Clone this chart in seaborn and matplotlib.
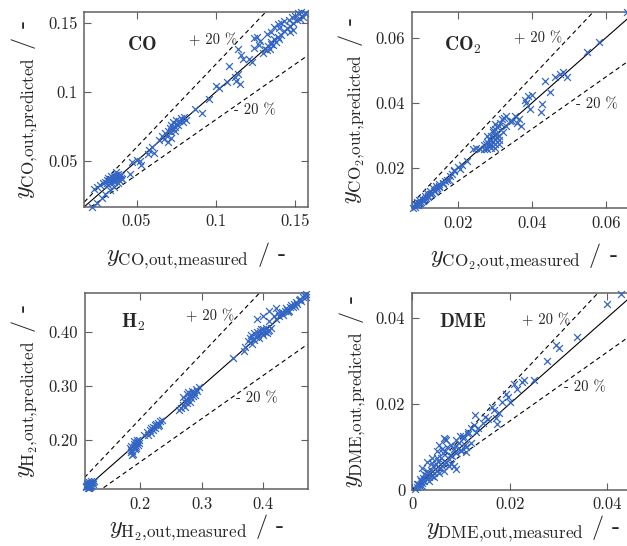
import matplotlib
matplotlib.use("Agg")
import matplotlib.pyplot as plt
import seaborn as sns
import numpy as np
import pandas as pd

# ---------------- data ----------------
co_measured = [0.022, 0.025, 0.028, 0.030, 0.033, 0.036, 0.038, 0.023, 0.025, 0.027,
               0.029, 0.030, 0.031, 0.032, 0.033, 0.034, 0.035, 0.035, 0.036, 0.036,
               0.037, 0.037, 0.038, 0.038, 0.039, 0.039, 0.040, 0.034, 0.032, 0.031,
               0.036, 0.037, 0.040, 0.041, 0.046, 0.047, 0.050, 0.052, 0.053, 0.057,
               0.058, 0.060, 0.061, 0.064, 0.066, 0.067, 0.068, 0.069, 0.070, 0.071,
               0.072, 0.072, 0.073, 0.073, 0.074, 0.074, 0.075, 0.075, 0.076, 0.077,
               0.078, 0.079, 0.080, 0.081, 0.070, 0.072, 0.087, 0.091, 0.096, 0.100,
               0.102, 0.107, 0.108, 0.112, 0.113, 0.114, 0.115, 0.114, 0.116, 0.117,
               0.121, 0.123, 0.124, 0.124, 0.126, 0.128, 0.127, 0.130, 0.131, 0.132,
               0.133, 0.134, 0.135, 0.135, 0.136, 0.137, 0.137, 0.138, 0.139, 0.140,
               0.140, 0.141, 0.143, 0.146, 0.148, 0.150, 0.152, 0.154, 0.156, 0.155,
               0.153, 0.151, 0.149, 0.147, 0.145, 0.143, 0.141, 0.139, 0.147, 0.149,
               0.132, 0.135]
co_predicted = [0.017, 0.020, 0.023, 0.026, 0.029, 0.031, 0.034, 0.030, 0.031, 0.033,
                0.034, 0.035, 0.036, 0.033, 0.037, 0.035, 0.038, 0.036, 0.039, 0.037,
                0.040, 0.038, 0.041, 0.037, 0.039, 0.036, 0.038, 0.039, 0.038, 0.034,
                0.035, 0.042, 0.040, 0.037, 0.041, 0.049, 0.051, 0.050, 0.047, 0.055,
                0.058, 0.060, 0.056, 0.065, 0.068, 0.066, 0.070, 0.068, 0.072, 0.074,
                0.071, 0.076, 0.074, 0.078, 0.075, 0.072, 0.077, 0.080, 0.076, 0.079,
                0.081, 0.078, 0.082, 0.080, 0.064, 0.067, 0.088, 0.085, 0.095, 0.104,
                0.103, 0.107, 0.119, 0.111, 0.108, 0.113, 0.106, 0.131, 0.127, 0.124,
                0.124, 0.122, 0.132, 0.139, 0.140, 0.137, 0.134, 0.128, 0.131, 0.142,
                0.133, 0.131, 0.135, 0.143, 0.134, 0.138, 0.147, 0.136, 0.149, 0.138,
                0.146, 0.150, 0.151, 0.152, 0.154, 0.155, 0.157, 0.158, 0.157, 0.154,
                0.153, 0.152, 0.150, 0.148, 0.146, 0.144, 0.141, 0.140, 0.143, 0.145,
                0.130, 0.136]

co2_measured = [0.0080, 0.0085, 0.0090, 0.0095, 0.0100, 0.0105, 0.0110, 0.0115, 0.0120, 0.0125,
                0.0130, 0.0135, 0.0140, 0.0145, 0.0150, 0.0160, 0.0165, 0.0170, 0.0090, 0.0095,
                0.0102, 0.0110, 0.0118, 0.0125, 0.0132, 0.0140, 0.0148, 0.0085, 0.0092, 0.0098,
                0.0108, 0.0120, 0.0128, 0.0138, 0.0150, 0.0160, 0.0175, 0.0180, 0.0190, 0.0185,
                0.0200, 0.0190, 0.0205, 0.0225, 0.0210, 0.0240, 0.0250, 0.0260, 0.0270, 0.0275,
                0.0280, 0.0270, 0.0275, 0.0280, 0.0285, 0.0290, 0.0290, 0.0295, 0.0300, 0.0300,
                0.0305, 0.0310, 0.0310, 0.0285, 0.0290, 0.0295, 0.0300, 0.0305, 0.0280, 0.0285,
                0.0290, 0.0300, 0.0310, 0.0295, 0.0305, 0.0300, 0.0310, 0.0315, 0.0320, 0.0330,
                0.0340, 0.0330, 0.0325, 0.0355, 0.0360, 0.0365, 0.0370, 0.0380, 0.0390, 0.0400,
                0.0385, 0.0394, 0.0425, 0.0427, 0.0436, 0.0450, 0.0463, 0.0475, 0.0484, 0.0494,
                0.0548, 0.0582, 0.0657, 0.0345, 0.0322]
co2_predicted = [0.0078, 0.0082, 0.0088, 0.0092, 0.0097, 0.0100, 0.0105, 0.0110, 0.0115, 0.0120,
                 0.0125, 0.0130, 0.0135, 0.0140, 0.0145, 0.0155, 0.0160, 0.0165, 0.0095, 0.0101,
                 0.0107, 0.0115, 0.0124, 0.0131, 0.0138, 0.0146, 0.0153, 0.0090, 0.0087, 0.0094,
                 0.0102, 0.0113, 0.0120, 0.0130, 0.0142, 0.0150, 0.0165, 0.0175, 0.0195, 0.0182,
                 0.0205, 0.0190, 0.0198, 0.0222, 0.0210, 0.0260, 0.0262, 0.0260, 0.0258, 0.0263,
                 0.0260, 0.0270, 0.0275, 0.0280, 0.0275, 0.0270, 0.0285, 0.0280, 0.0290, 0.0275,
                 0.0295, 0.0300, 0.0285, 0.0290, 0.0300, 0.0310, 0.0320, 0.0305, 0.0300, 0.0268,
                 0.0262, 0.0262, 0.0275, 0.0318, 0.0325, 0.0335, 0.0330, 0.0340, 0.0350, 0.0360,
                 0.0345, 0.0330, 0.0355, 0.0360, 0.0340, 0.0352, 0.0330, 0.0410, 0.0420, 0.0425,
                 0.0400, 0.0380, 0.0373, 0.0396, 0.0468, 0.0434, 0.0480, 0.0490, 0.0495, 0.0480,
                 0.0557, 0.0587, 0.0679, 0.0345, 0.0312]

h2_measured = [0.112, 0.114, 0.116, 0.118, 0.120, 0.113, 0.115, 0.117, 0.119, 0.121,
               0.123, 0.122, 0.120, 0.118, 0.116, 0.111, 0.124, 0.117, 0.114, 0.119,
               0.183, 0.185, 0.187, 0.189, 0.190, 0.192, 0.193, 0.195, 0.188, 0.186,
               0.191, 0.194, 0.196, 0.184, 0.190, 0.197, 0.185, 0.192, 0.198,
               0.205, 0.210, 0.215, 0.218, 0.220, 0.223, 0.226, 0.229, 0.232, 0.235,
               0.224, 0.228, 0.221, 0.231, 0.217, 0.212,
               0.262, 0.266, 0.270, 0.272, 0.275, 0.278, 0.280, 0.282, 0.285, 0.288,
               0.290, 0.292, 0.295, 0.275, 0.278, 0.283, 0.286, 0.270, 0.273, 0.280,
               0.289, 0.276, 0.284,
               0.350, 0.370, 0.368,
               0.375, 0.378, 0.380, 0.383, 0.385, 0.388, 0.390, 0.392, 0.395, 0.398,
               0.400, 0.403, 0.405, 0.408, 0.410, 0.413, 0.385, 0.393, 0.400, 0.382,
               0.396, 0.406,
               0.420, 0.425, 0.428, 0.432, 0.435, 0.438, 0.440, 0.443, 0.445, 0.448,
               0.450, 0.453, 0.455, 0.458, 0.460, 0.462, 0.465, 0.467, 0.469, 0.470,
               0.430, 0.437, 0.452, 0.442, 0.418, 0.424, 0.410, 0.390, 0.400, 0.410, 0.420]
h2_predicted = [0.113, 0.115, 0.117, 0.119, 0.121, 0.118, 0.120, 0.122, 0.124, 0.120,
                0.122, 0.118, 0.116, 0.114, 0.112, 0.116, 0.125, 0.113, 0.111, 0.117,
                0.185, 0.190, 0.180, 0.188, 0.193, 0.195, 0.190, 0.197, 0.175, 0.172,
                0.184, 0.200, 0.192, 0.178, 0.198, 0.200, 0.182, 0.186, 0.195,
                0.210, 0.215, 0.218, 0.222, 0.225, 0.228, 0.230, 0.232, 0.235, 0.238,
                0.222, 0.226, 0.219, 0.229, 0.213, 0.209,
                0.255, 0.260, 0.265, 0.270, 0.275, 0.278, 0.282, 0.285, 0.288, 0.290,
                0.295, 0.292, 0.298, 0.285, 0.290, 0.278, 0.282, 0.280, 0.262, 0.270,
                0.283, 0.268, 0.292,
                0.352, 0.372, 0.365,
                0.383, 0.390, 0.395, 0.388, 0.398, 0.392, 0.400, 0.395, 0.402, 0.398,
                0.405, 0.400, 0.407, 0.402, 0.404, 0.408, 0.385, 0.390, 0.395, 0.378,
                0.405, 0.398,
                0.425, 0.430, 0.435, 0.432, 0.440, 0.442, 0.437, 0.447, 0.450, 0.446,
                0.453, 0.455, 0.452, 0.460, 0.462, 0.458, 0.466, 0.468, 0.470, 0.465,
                0.438, 0.445, 0.448, 0.440, 0.430, 0.436, 0.420, 0.425, 0.430, 0.440, 0.445]

dme_measured = [0.0005, 0.0010, 0.0012, 0.0015, 0.0018, 0.0020, 0.0022, 0.0025, 0.0028, 0.0030,
                0.0032, 0.0035, 0.0038, 0.0040, 0.0042, 0.0045, 0.0048, 0.0050, 0.0052, 0.0055,
                0.0058, 0.0060, 0.0062, 0.0065, 0.0068, 0.0070, 0.0072, 0.0075, 0.0080, 0.0082,
                0.0085, 0.0090, 0.0095, 0.0100, 0.0105, 0.0110, 0.0115, 0.0120, 0.0030, 0.0040,
                0.0050, 0.0060, 0.0070, 0.0035, 0.0045, 0.0055, 0.0065, 0.0075, 0.0020, 0.0010,
                0.0015, 0.0025, 0.0068, 0.0078, 0.0088, 0.0098, 0.0108, 0.0020, 0.0030, 0.0040,
                0.0050, 0.0065, 0.0055, 0.0080, 0.0090, 0.0085, 0.0100, 0.0110,
                0.0090, 0.0105, 0.0115, 0.0120, 0.0130, 0.0135, 0.0145, 0.0150, 0.0155, 0.0168,
                0.0172, 0.0185, 0.0200, 0.0215, 0.0225,
                0.0128, 0.0126, 0.0164, 0.0178, 0.0174, 0.0192, 0.0197, 0.0209, 0.0230, 0.0250,
                0.0277, 0.0295, 0.0302, 0.0339, 0.0399, 0.0428]
dme_predicted = [0.0003, 0.0008, 0.0015, 0.0010, 0.0022, 0.0017, 0.0028, 0.0020, 0.0035, 0.0025,
                 0.0040, 0.0030, 0.0047, 0.0033, 0.0055, 0.0040, 0.0060, 0.0045, 0.0068, 0.0050,
                 0.0075, 0.0055, 0.0085, 0.0060, 0.0090, 0.0065, 0.0100, 0.0072, 0.0105, 0.0078,
                 0.0095, 0.0085, 0.0110, 0.0090, 0.0120, 0.0100, 0.0130, 0.0110, 0.0045, 0.0062,
                 0.0075, 0.0095, 0.0115, 0.0020, 0.0030, 0.0040, 0.0045, 0.0055, 0.0010, 0.0015,
                 0.0025, 0.0038, 0.0118, 0.0082, 0.0102, 0.0125, 0.0105, 0.0050, 0.0066, 0.0075,
                 0.0090, 0.0120, 0.0105, 0.0060, 0.0048, 0.0055, 0.0093, 0.0088,
                 0.0115, 0.0125, 0.0135, 0.0145, 0.0135, 0.0145, 0.0155, 0.0170, 0.0165, 0.0185,
                 0.0168, 0.0205, 0.0205, 0.0235, 0.0250,
                 0.0174, 0.0151, 0.0193, 0.0178, 0.0153, 0.0224, 0.0216, 0.0247, 0.0255, 0.0255,
                 0.0300, 0.0336, 0.0330, 0.0355, 0.0433, 0.0456]

species = ["CO", "CO2", "H2", "DME"]
panel_titles = [r"$\mathbf{CO}$", r"$\mathbf{CO}_\mathbf{2}$", r"$\mathbf{H}_\mathbf{2}$", r"$\mathbf{DME}$"]
sub_names = ["CO", "CO_2", "H_2", "DME"]
limits = [(0.017, 0.158), (0.0077, 0.0678), (0.109, 0.472), (0.0, 0.0457)]
xtick_vals = [[0.05, 0.1, 0.15], [0.02, 0.04, 0.06], [0.2, 0.3, 0.4], [0.0, 0.02, 0.04]]
xtick_labels = [["0.05", "0.1", "0.15"], ["0.02", "0.04", "0.06"], ["0.2", "0.3", "0.4"], ["0", "0.02", "0.04"]]
ytick_labels = [["0.05", "0.1", "0.15"], ["0.02", "0.04", "0.06"], ["0.20", "0.30", "0.40"], ["0", "0.02", "0.04"]]
measured = [co_measured, co2_measured, h2_measured, dme_measured]
predicted = [co_predicted, co2_predicted, h2_predicted, dme_predicted]
deviation = 0.20

# ---------------- style ----------------
sns.set_style("ticks")
plt.rcParams["font.family"] = ["cmr10", "DejaVu Serif"]
plt.rcParams["mathtext.fontset"] = "cm"
plt.rcParams["axes.formatter.use_mathtext"] = True
plt.rcParams["axes.unicode_minus"] = False

spine_col = "#606060"
marker_col = "#3366c4"

fig = plt.figure(figsize=(6.27, 5.46), dpi=100)
positions = [[0.1345, 0.6214, 0.3563, 0.3571],
             [0.6576, 0.6185, 0.3549, 0.3590],
             [0.1348, 0.1038, 0.3557, 0.3590],
             [0.6576, 0.1026, 0.3549, 0.3604]]
label_pos = [[(0.258, 0.83), (0.577, 0.855), (0.763, 0.495)],
             [(0.228, 0.833), (0.565, 0.868), (0.83, 0.532)],
             [(0.217, 0.854), (0.563, 0.885), (0.773, 0.466)],
             [(0.228, 0.854), (0.60, 0.86), (0.775, 0.52)]]
xlabel_pads = [8, 8, 0.5, 0.5]

for i in range(4):
    ax = fig.add_axes(positions[i])
    lo, hi = limits[i]
    line = np.array([lo, hi])
    ax.plot(line, line, color="black", lw=0.8, zorder=2)
    ax.plot(line, line * (1 + deviation), color="black", lw=0.8, ls=(0, (4, 3)), zorder=2)
    ax.plot(line, line * (1 - deviation), color="black", lw=0.8, ls=(0, (4, 3)), zorder=2)
    df = pd.DataFrame({"measured": measured[i], "predicted": predicted[i]})
    sns.scatterplot(data=df, x="measured", y="predicted", marker="x", color=marker_col,
                    s=24, linewidth=0.9, ax=ax, zorder=3, clip_on=False)
    ax.set_xlim(lo, hi)
    ax.set_ylim(lo, hi)
    ax.set_xticks(xtick_vals[i])
    ax.set_xticklabels(xtick_labels[i])
    ax.set_yticks(xtick_vals[i])
    ax.set_yticklabels(ytick_labels[i])
    ax.tick_params(direction="in", length=5, width=0.8, color=spine_col,
                   labelsize=12, top=True, right=True, pad=5)
    for sp in ax.spines.values():
        sp.set_color(spine_col)
        sp.set_linewidth(1.1)
    name = sub_names[i]
    ax.set_xlabel(r"$y_{\mathrm{" + name + r"{,}out{,}measured}}$ / -", fontsize=17.5,
                  labelpad=xlabel_pads[i])
    ax.set_ylabel(r"$y_{\mathrm{" + name + r"{,}out{,}predicted}}$ / -", fontsize=17.5, labelpad=6)
    (tx, ty), (px, py), (mx, my) = label_pos[i]
    ax.text(tx, ty, panel_titles[i], transform=ax.transAxes, fontsize=14,
            ha="center", va="center")
    ax.text(px, py, "+ 20 %", transform=ax.transAxes, fontsize=10.5, ha="center", va="center")
    ax.text(mx, my, "- 20 %", transform=ax.transAxes, fontsize=10.5, ha="center", va="center")

fig.savefig("out.png", dpi=100)
